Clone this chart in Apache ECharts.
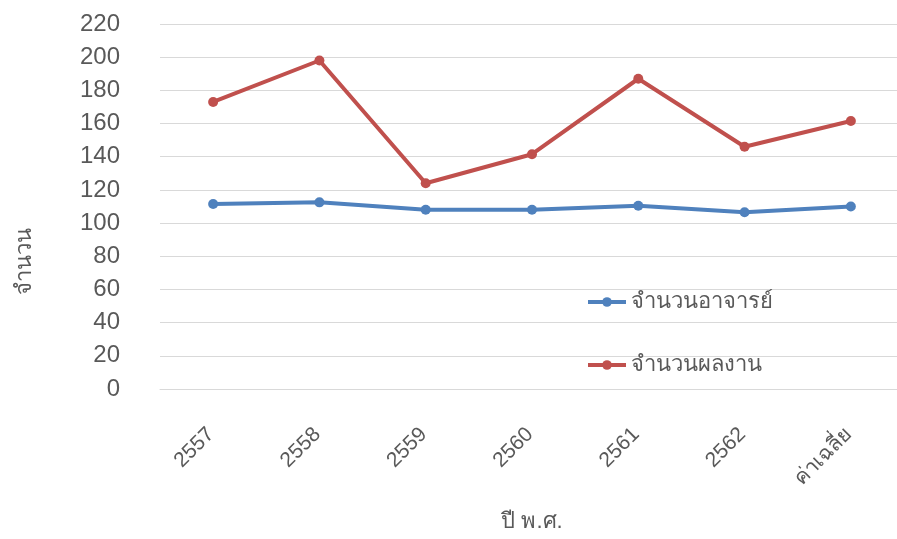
<!DOCTYPE html>
<html>
<head>
<meta charset="utf-8">
<script src="https://cdn.jsdelivr.net/npm/echarts@6/dist/echarts.min.js"></script>
<style>
  html, body { margin: 0; padding: 0; background: #fff; }
  #chart { width: 897px; height: 539px; }
</style>
</head>
<body>
<div id="chart"></div>
<script>
// ข้อมูลจากกราฟ
var years = ['2557', '2558', '2559', '2560', '2561', '2562', 'ค่าเฉลี่ย']
var teachers = [111.5, 112.5, 108, 108, 110.5, 106.5, 110]
var works = [173, 198, 124, 141.5, 187, 146, 161.5]
var yTicks = { min: 0, max: 220, interval: 20 }

var textColor = '#595959'
var font = 'Liberation Sans, DejaVu Sans, sans-serif'

var chart = echarts.init(document.getElementById('chart'))
var option = {
  animation: false,
  textStyle: { fontFamily: font, color: textColor },
  grid: { left: 160, right: -7, top: 24, bottom: 150, outerBoundsMode: 'none' },
  legend: {
    orient: 'vertical',
    left: 586,
    top: 290,
    padding: 0,
    itemWidth: 38,
    itemHeight: 12,
    itemGap: 39,
    lineStyle: { width: 4 },
    textStyle: { fontSize: 22, lineHeight: 24, color: textColor, fontFamily: font },
    data: ['จำนวนอาจารย์', 'จำนวนผลงาน']
  },
  xAxis: {
    type: 'category',
    data: years,
    boundaryGap: true,
    axisLine: { lineStyle: { color: '#d9d9d9', width: 1 } },
    axisTick: { show: false },
    axisLabel: {
      rotate: 45,
      margin: 40,
      padding: [0, 3, 0, 0],
      fontSize: 21,
      color: textColor,
      interval: 0
    },
    name: 'ปี พ.ศ.',
    nameLocation: 'middle',
    nameGap: 122,
    nameTextStyle: { fontSize: 22, color: textColor }
  },
  yAxis: {
    type: 'value',
    min: yTicks.min,
    max: yTicks.max,
    interval: yTicks.interval,
    axisLine: { show: false },
    axisTick: { show: false },
    axisLabel: { fontSize: 24, color: textColor, margin: 40 },
    splitLine: { lineStyle: { color: '#d9d9d9', width: 1 } }
  },
  graphic: [{
    type: 'text',
    x: 25,
    y: 261,
    rotation: Math.PI / 2,
    style: {
      text: 'จำนวน',
      fontSize: 22,
      fontFamily: font,
      fill: textColor,
      align: 'center',
      verticalAlign: 'middle'
    }
  }],
  series: [
    {
      name: 'จำนวนอาจารย์',
      type: 'line',
      data: teachers,
      symbol: 'circle',
      symbolSize: 10,
      lineStyle: { color: '#4f81bd', width: 4 },
      itemStyle: { color: '#4f81bd' }
    },
    {
      name: 'จำนวนผลงาน',
      type: 'line',
      data: works,
      symbol: 'circle',
      symbolSize: 10,
      lineStyle: { color: '#c0504d', width: 4 },
      itemStyle: { color: '#c0504d' }
    }
  ]
}
chart.setOption(option)
</script>
</body>
</html>
